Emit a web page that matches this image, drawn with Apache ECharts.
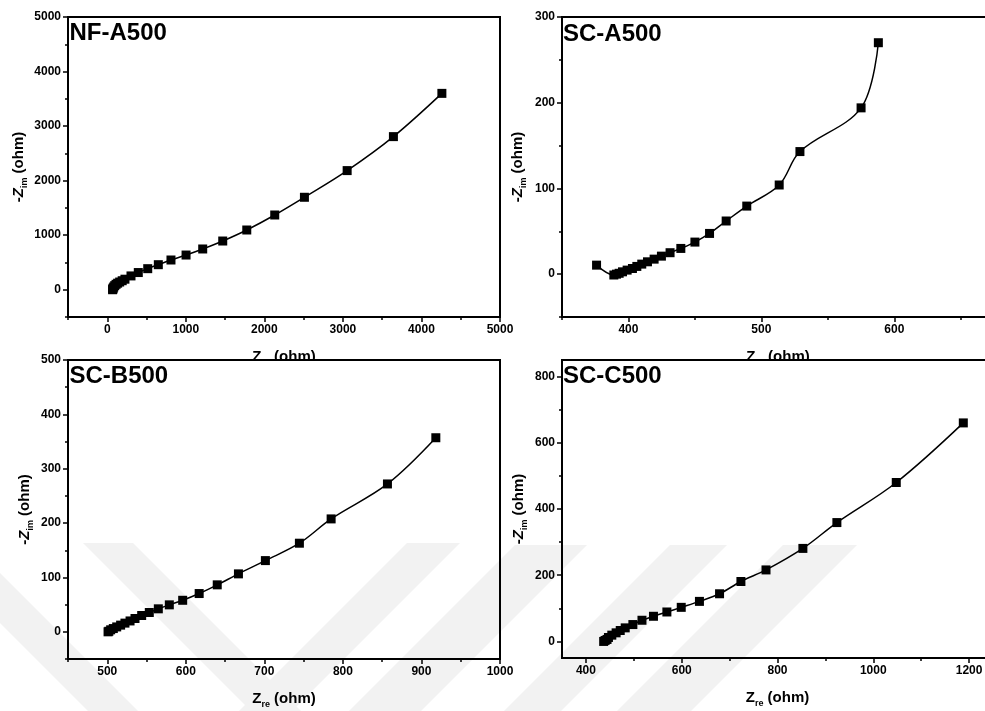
<!DOCTYPE html>
<html>
<head>
<meta charset="utf-8">
<script src="https://cdn.jsdelivr.net/npm/echarts@6/dist/echarts.min.js"></script>
<style>
  html, body { margin: 0; padding: 0; background: #fff; }
  #chart { width: 985px; height: 711px; }
</style>
</head>
<body>
<div id="chart"></div>
<script>
// Nyquist plots: Z_re vs -Z_im (ohm) for four electrodes

// NF-A500
const nfA500Re = [68, 70, 74, 82, 95, 112, 132, 158, 190, 225, 302, 395, 515, 650, 811, 1003, 1215, 1470, 1776, 2132, 2510, 3054, 3643, 4260];
const nfA500Im = [0, 12, 28, 50, 75, 99, 120, 141, 165, 193, 253, 315, 386, 459, 545, 636, 747, 893, 1095, 1370, 1695, 2184, 2807, 3600];

// SC-A500
const scA500Re = [376, 389, 391, 393, 395.5, 399, 403, 406.3, 410, 414.3, 419.3, 424.8, 431.3, 439.4, 450, 461, 473.5, 489, 513.4, 529, 575, 588];
const scA500Im = [10.5, -1, 0, 1, 2.7, 4.7, 6.6, 9, 11.7, 14.4, 17.5, 21, 25, 30, 37.4, 47.5, 62, 79.4, 104, 143, 194, 270];

// SC-B500
const scB500Re = [501, 502, 504.3, 507.7, 512, 517, 522.5, 529, 535.3, 543.8, 553.5, 565, 579, 596, 617, 640, 667, 701.3, 744.6, 785, 856.7, 918.3];
const scB500Im = [0, 1, 3.7, 6, 9, 12.3, 16, 20, 24.5, 30, 35.5, 42.3, 49.6, 58, 70.4, 86.4, 106.6, 131, 163, 207.7, 272, 357];

// SC-C500
const scC500Re = [437, 440, 444, 447, 454, 463, 471.6, 482, 498, 517, 541, 569, 599, 637, 679, 723.6, 776, 853, 924, 1048, 1188];
const scC500Im = [0, 3, 6, 12, 19, 26, 33, 41, 51, 64, 76, 89, 103, 121, 144, 181, 216, 281, 359, 480, 660];

// Tick labels (major) and minor tick positions
const nfA500XTicks = [0, 1000, 2000, 3000, 4000, 5000];
const nfA500XMinor = [-500, 500, 1500, 2500, 3500, 4500];
const nfA500YTicks = [0, 1000, 2000, 3000, 4000, 5000];
const nfA500YMinor = [-500, 500, 1500, 2500, 3500, 4500];

const scA500XTicks = [400, 500, 600];
const scA500XMinor = [350, 450, 550, 650];
const scA500YTicks = [0, 100, 200, 300];
const scA500YMinor = [-50, 50, 150, 250];

const scB500XTicks = [500, 600, 700, 800, 900, 1000];
const scB500XMinor = [450, 550, 650, 750, 850, 950];
const scB500YTicks = [0, 100, 200, 300, 400, 500];
const scB500YMinor = [-50, 50, 150, 250, 350, 450];

const scC500XTicks = [400, 600, 800, 1000, 1200];
const scC500XMinor = [500, 700, 900, 1100];
const scC500YTicks = [0, 200, 400, 600, 800];
const scC500YMinor = [100, 300, 500, 700];

const FONT = '"Liberation Sans", Arial, sans-serif';

const panels = [
  { label: 'NF-A500', re: nfA500Re, im: nfA500Im,
    box: { left: 68, top: 17, width: 432, height: 300 },
    x: { min: -500, max: 5000, major: nfA500XTicks, minor: nfA500XMinor },
    y: { min: -500, max: 5000, major: nfA500YTicks, minor: nfA500YMinor },
    yGap: 39, titlePos: [69.5, 21], front: false },
  { label: 'SC-A500', re: scA500Re, im: scA500Im,
    box: { left: 562, top: 17, width: 432, height: 300 },
    x: { min: 350, max: 675, major: scA500XTicks, minor: scA500XMinor },
    y: { min: -50, max: 300, major: scA500YTicks, minor: scA500YMinor },
    yGap: 34, titlePos: [563, 22.5], front: false },
  { label: 'SC-B500', re: scB500Re, im: scB500Im,
    box: { left: 68, top: 360, width: 432, height: 299 },
    x: { min: 450, max: 1000, major: scB500XTicks, minor: scB500XMinor },
    y: { min: -50, max: 500, major: scB500YTicks, minor: scB500YMinor },
    yGap: 33, titlePos: [69.5, 364], front: true },
  { label: 'SC-C500', re: scC500Re, im: scC500Im,
    box: { left: 562, top: 360, width: 431, height: 298 },
    x: { min: 350, max: 1250, major: scC500XTicks, minor: scC500XMinor },
    y: { min: -50, max: 850, major: scC500YTicks, minor: scC500YMinor },
    yGap: 33, titlePos: [563, 364], front: true }
];

const nameRich = {
  m: { fontSize: 15, fontWeight: 'bold', fontFamily: FONT, color: '#000', lineHeight: 18, verticalAlign: 'top' },
  i: { fontSize: 15, fontWeight: 'bold', fontStyle: 'italic', fontFamily: FONT, color: '#000', lineHeight: 18, verticalAlign: 'top' },
  s: { fontSize: 9, fontWeight: 'bold', fontFamily: FONT, color: '#000', lineHeight: 9, verticalAlign: 'top', padding: [9, 0, 0, 0] }
};

const plain = function (v) { return String(v); };

const grids = [], xAxes = [], yAxes = [], series = [], graphics = [];

// White sheet under the lower row, so the upper row's axis titles are tucked beneath it
graphics.push({ type: 'rect', z: 3, silent: true,
  shape: { x: 0, y: 359, width: 985, height: 352 }, style: { fill: '#fff' } });

// Faint diagonal background bands in the lower row
const bandFill = '#f2f2f2';
const bands = [
  [[-80, 543], [-30, 543], [138, 711], [88, 711]],
  [[83, 543], [133, 543], [301, 711], [251, 711]],
  [[407, 543], [460, 543], [292, 711], [239, 711]],
  [[515, 545], [587, 545], [421, 711], [349, 711]],
  [[670, 545], [727, 545], [561, 711], [504, 711]],
  [[783, 545], [857, 545], [691, 711], [617, 711]]
];
bands.forEach(function (pts) {
  graphics.push({ type: 'polygon', z: 5, silent: true, shape: { points: pts }, style: { fill: bandFill } });
});

panels.forEach(function (p, gi) {
  const z = p.front ? 10 : 1;
  const gridBase = { containLabel: false, outerBoundsMode: 'none', z: z };
  // framed plot area
  grids.push(Object.assign({ show: true, borderColor: '#000', borderWidth: 2, backgroundColor: 'transparent' }, gridBase, p.box));
  // same box again, carrying the short minor ticks
  grids.push(Object.assign({ show: false }, gridBase, p.box));

  const lineStyle = { color: '#000', width: 2 };
  const labelStyle = { color: '#000', fontWeight: 'bold', fontSize: 12, fontFamily: FONT, formatter: plain };
  const tickLine = { color: '#000', width: 1.5 };

  // main x axis: line, major ticks, labels, title
  xAxes.push({
    gridIndex: 2 * gi, type: 'value', position: 'bottom', min: p.x.min, max: p.x.max, z: z,
    axisLine: { show: true, onZero: false, lineStyle: lineStyle },
    axisTick: { show: true, length: 5, customValues: p.x.major, lineStyle: tickLine },
    axisLabel: Object.assign({ customValues: p.x.major, margin: 7 }, labelStyle),
    splitLine: { show: false },
    name: '{m|Z}{s|re}{m| (ohm)}', nameLocation: 'middle', nameGap: 32,
    nameTextStyle: { rich: nameRich }
  });
  // minor x ticks
  xAxes.push({
    gridIndex: 2 * gi + 1, type: 'value', position: 'bottom', min: p.x.min, max: p.x.max, z: z,
    axisLine: { show: false, onZero: false },
    axisTick: { show: true, length: 3, customValues: p.x.minor, lineStyle: tickLine },
    axisLabel: { show: false }, splitLine: { show: false }
  });
  // main y axis
  yAxes.push({
    gridIndex: 2 * gi, type: 'value', position: 'left', min: p.y.min, max: p.y.max, z: z,
    axisLine: { show: true, onZero: false, lineStyle: lineStyle },
    axisTick: { show: true, length: 5, customValues: p.y.major, lineStyle: tickLine },
    axisLabel: Object.assign({ customValues: p.y.major, margin: 7 }, labelStyle),
    splitLine: { show: false },
    name: '{m|-}{i|Z}{s|im}{m| (ohm)}', nameLocation: 'middle', nameGap: p.yGap, nameRotate: 90,
    nameTextStyle: { rich: nameRich }
  });
  // minor y ticks
  yAxes.push({
    gridIndex: 2 * gi + 1, type: 'value', position: 'left', min: p.y.min, max: p.y.max, z: z,
    axisLine: { show: false, onZero: false },
    axisTick: { show: true, length: 3, customValues: p.y.minor, lineStyle: tickLine },
    axisLabel: { show: false }, splitLine: { show: false }
  });

  series.push({
    type: 'line', xAxisIndex: 2 * gi, yAxisIndex: 2 * gi, z: z + 1,
    data: p.re.map(function (v, k) { return [v, p.im[k]]; }),
    smooth: 0.35, symbol: 'rect', symbolSize: 9, showSymbol: true,
    lineStyle: { color: '#000', width: 1.5 },
    itemStyle: { color: '#000' },
    emphasis: { disabled: true }
  });

  graphics.push({
    type: 'text', z: 20, silent: true, left: p.titlePos[0], top: p.titlePos[1],
    style: { text: p.label, font: 'bold 24px ' + FONT, fill: '#000' }
  });
});

const chart = echarts.init(document.getElementById('chart'), null, { renderer: 'canvas' });
chart.setOption({
  animation: false,
  backgroundColor: '#fff',
  textStyle: { fontFamily: FONT },
  grid: grids,
  xAxis: xAxes,
  yAxis: yAxes,
  series: series,
  graphic: graphics
});
</script>
</body>
</html>
